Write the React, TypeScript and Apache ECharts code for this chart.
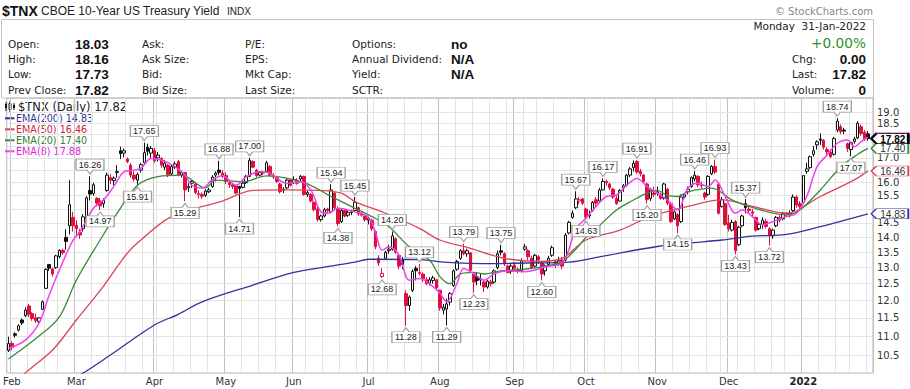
import React, { useEffect, useRef } from 'react';
import * as echarts from 'echarts';

// ---------- calendar ----------
const FIRST_DAY = [2021, 0, 29];
const LAST_DAY = [2022, 0, 31];
const HOLIDAYS = ['2021-02-15', '2021-04-02', '2021-05-31', '2021-07-05', '2021-09-06', '2021-11-25', '2021-12-24', '2022-01-17'];
const MONTH_NAMES = ['Jan', 'Feb', 'Mar', 'Apr', 'May', 'Jun', 'Jul', 'Aug', 'Sep', 'Oct', 'Nov', 'Dec'];

// ---------- daily OHLC ($TNX, 29-Jan-2021 .. 31-Jan-2022) ----------
const OPENS = [
  10.62, 10.80, 11.06, 11.16, 11.44, 11.56, 11.84, 11.62, 11.50, 11.40, 11.74, 12.36, 13.10, 12.96, 13.00, 13.36, 13.56, 14.00, 14.40, 14.70,
  14.42, 14.18, 14.30, 14.66, 15.70, 15.58, 15.40, 15.30, 15.20, 15.70, 16.20, 16.08, 16.40, 17.30, 17.20, 16.95, 16.70, 16.30, 16.10, 16.50,
  16.80, 17.45, 17.20, 17.30, 17.00, 16.98, 16.62, 16.70, 16.35, 16.62, 16.85, 16.30, 16.40, 15.80, 15.98, 15.95, 15.58, 15.55, 15.52, 15.65,
  15.85, 16.30, 16.50, 16.38, 16.28, 16.00, 15.92, 15.88, 15.85, 15.82, 16.00, 16.25, 16.85, 16.50, 16.30, 16.42, 16.45, 16.65, 16.28, 16.20,
  15.95, 15.72, 15.80, 16.12, 16.00, 16.10, 16.15, 16.25, 15.55, 15.55, 15.25, 15.00, 14.62, 14.75, 15.00, 14.90, 15.60, 15.00, 14.55, 14.95,
  14.78, 14.88, 14.95, 15.05, 14.85, 14.75, 14.60, 14.60, 14.20, 13.30, 12.72, 13.30, 13.55, 13.60, 13.95, 13.40, 13.25, 12.20, 11.85, 12.30,
  12.98, 12.85, 12.80, 12.62, 12.52, 12.60, 12.62, 12.30, 11.72, 11.75, 11.95, 12.45, 12.95, 13.30, 13.55, 13.45, 13.48, 12.80, 12.70, 12.62,
  12.55, 12.40, 12.55, 12.55, 13.00, 13.55, 13.45, 13.05, 12.88, 13.08, 12.95, 12.90, 13.60, 13.55, 13.30, 13.05, 13.35, 13.15, 12.90, 13.10,
  13.40, 13.20, 13.12, 13.25, 13.25, 14.15, 14.70, 15.05, 15.30, 15.38, 15.00, 14.75, 14.95, 15.35, 15.30, 15.72, 16.05, 15.95, 15.75, 15.40,
  15.30, 15.80, 15.90, 16.30, 16.60, 16.85, 16.45, 16.30, 15.95, 15.40, 15.60, 15.60, 15.55, 15.40, 15.75, 15.20, 14.65, 14.80, 14.55, 15.45,
  15.65, 15.85, 16.15, 16.25, 15.90, 15.60, 15.55, 16.35, 16.65, 15.95, 15.10, 15.20, 14.50, 14.25, 14.55, 13.75, 14.40, 15.20, 15.00, 14.90,
  14.70, 14.30, 14.45, 14.55, 14.30, 14.05, 14.40, 14.70, 14.65, 14.85, 14.80, 14.95, 15.45, 15.20, 15.25, 16.45, 16.60, 17.15, 17.55, 17.80,
  17.75, 17.35, 17.25, 17.15, 18.20, 18.35, 18.20, 17.60, 17.35, 17.70, 17.85, 18.35, 18.10, 18.03,
];
const HIGHS = [
  10.98, 10.86, 11.10, 11.32, 11.48, 11.80, 11.90, 11.66, 11.62, 11.52, 12.00, 12.98, 13.12, 13.00, 13.42, 13.60, 13.62, 14.28, 16.10, 14.90,
  14.60, 14.30, 14.82, 15.48, 16.26, 16.00, 15.45, 15.42, 15.40, 16.40, 16.35, 16.25, 16.70, 17.47, 17.40, 17.02, 16.78, 16.45, 16.40, 16.80,
  17.65, 17.60, 17.50, 17.42, 17.25, 17.02, 16.92, 16.75, 16.72, 16.85, 16.92, 16.48, 16.42, 15.98, 16.10, 16.00, 15.70, 15.62, 15.75, 15.80,
  16.30, 16.45, 16.88, 16.50, 16.40, 16.12, 16.00, 15.92, 15.88, 16.05, 16.30, 17.00, 16.90, 16.55, 16.45, 16.45, 16.88, 16.70, 16.38, 16.25,
  16.00, 15.82, 16.18, 16.15, 16.25, 16.18, 16.30, 16.28, 15.70, 15.60, 15.30, 15.12, 14.80, 15.05, 15.05, 15.94, 15.65, 15.10, 15.00, 15.00,
  14.95, 14.98, 15.45, 15.10, 14.92, 14.80, 14.72, 14.65, 14.25, 13.40, 12.98, 13.55, 13.75, 14.20, 14.00, 13.45, 13.35, 12.30, 12.15, 12.95,
  13.05, 13.12, 12.85, 12.70, 12.70, 12.75, 12.65, 12.32, 11.90, 12.05, 12.25, 12.95, 13.25, 13.60, 13.79, 13.62, 13.50, 12.82, 12.85, 12.80,
  12.60, 12.62, 12.62, 12.95, 13.55, 13.75, 13.50, 13.10, 13.15, 13.18, 13.00, 13.30, 13.78, 13.60, 13.38, 13.45, 13.40, 13.20, 13.10, 13.38,
  13.72, 13.25, 13.35, 13.35, 14.15, 14.58, 14.95, 15.67, 15.45, 15.42, 15.05, 14.95, 15.30, 15.45, 15.80, 16.17, 16.12, 16.00, 15.80, 15.50,
  15.75, 15.95, 16.35, 16.62, 16.90, 16.91, 16.55, 16.35, 16.00, 15.80, 15.85, 15.85, 15.62, 16.00, 15.80, 15.25, 14.95, 14.85, 15.55, 15.60,
  15.85, 16.25, 16.46, 16.30, 16.05, 15.65, 16.30, 16.70, 16.93, 16.00, 15.45, 15.25, 14.80, 14.62, 14.60, 14.40, 14.80, 15.37, 15.10, 15.00,
  14.72, 14.50, 14.70, 14.65, 14.35, 14.30, 14.75, 14.78, 14.90, 14.90, 14.95, 15.55, 15.52, 15.30, 16.30, 16.80, 17.10, 17.50, 17.75, 18.05,
  17.80, 17.45, 17.35, 17.90, 18.74, 18.45, 18.30, 17.65, 17.70, 17.90, 18.60, 18.45, 18.20, 18.16,
];
const LOWS = [
  10.58, 10.62, 10.96, 11.12, 11.30, 11.52, 11.52, 11.42, 11.36, 11.35, 11.72, 12.34, 12.90, 12.72, 12.96, 13.30, 13.42, 13.58, 14.10, 14.20,
  14.02, 13.95, 14.20, 14.56, 15.32, 15.50, 15.10, 14.97, 15.05, 15.65, 15.95, 15.90, 16.20, 16.95, 17.02, 16.78, 16.20, 16.05, 15.91, 16.40,
  16.75, 17.10, 17.00, 16.80, 16.85, 16.60, 16.50, 16.22, 16.30, 16.55, 16.25, 16.20, 15.29, 15.65, 15.80, 15.55, 15.40, 15.38, 15.45, 15.60,
  15.80, 16.05, 16.30, 16.18, 15.95, 15.80, 15.75, 15.55, 14.71, 15.78, 15.95, 16.22, 16.58, 16.20, 16.25, 16.30, 16.40, 16.25, 16.15, 15.98,
  15.58, 15.60, 15.75, 15.85, 15.95, 15.92, 16.05, 15.50, 15.45, 15.25, 14.92, 14.55, 14.55, 14.70, 14.82, 14.85, 14.95, 14.38, 14.50, 14.70,
  14.72, 14.78, 14.92, 14.75, 14.72, 14.55, 14.45, 14.22, 13.60, 13.05, 12.68, 13.25, 13.45, 13.55, 13.45, 12.95, 12.95, 11.28, 11.70, 12.25,
  12.60, 12.75, 12.55, 12.45, 12.45, 12.50, 12.30, 11.70, 11.60, 11.29, 11.85, 12.40, 12.90, 13.25, 13.40, 13.35, 12.88, 12.23, 12.45, 12.45,
  12.25, 12.35, 12.42, 12.50, 12.95, 13.40, 13.05, 12.82, 12.80, 12.90, 12.82, 12.85, 13.55, 13.25, 12.95, 13.00, 13.12, 12.60, 12.75, 13.05,
  13.35, 12.98, 13.05, 12.95, 13.20, 14.10, 14.65, 15.00, 15.18, 15.15, 14.63, 14.66, 14.90, 15.05, 15.25, 15.70, 15.88, 15.72, 15.38, 15.15,
  15.28, 15.65, 15.85, 16.22, 16.45, 16.35, 16.25, 15.95, 15.20, 15.30, 15.45, 15.50, 15.35, 15.35, 15.15, 14.50, 14.60, 14.15, 14.50, 15.40,
  15.55, 15.80, 16.05, 15.82, 15.78, 15.35, 15.50, 16.30, 16.35, 14.80, 15.05, 14.40, 14.20, 14.20, 13.43, 13.70, 14.35, 14.85, 14.85, 14.75,
  14.20, 14.25, 14.30, 14.30, 13.72, 13.95, 14.35, 14.52, 14.60, 14.72, 14.70, 14.90, 15.05, 14.95, 15.20, 16.35, 16.55, 17.05, 17.35, 17.55,
  17.35, 17.05, 17.00, 17.10, 18.10, 18.02, 18.02, 17.25, 17.07, 17.60, 17.80, 17.95, 17.72, 17.73,
];
const CLOSES = [
  10.80, 10.70, 11.02, 11.28, 11.36, 11.72, 11.60, 11.48, 11.42, 11.50, 11.96, 12.94, 12.98, 12.80, 13.38, 13.56, 13.48, 13.86, 15.16, 14.40,
  14.30, 14.08, 14.72, 15.42, 15.56, 15.92, 15.22, 15.12, 15.32, 16.30, 16.10, 16.18, 16.44, 17.18, 17.30, 16.85, 16.30, 16.15, 16.32, 16.72,
  17.22, 17.28, 17.40, 16.88, 17.12, 16.70, 16.78, 16.32, 16.65, 16.75, 16.32, 16.40, 15.72, 15.85, 16.05, 15.62, 15.55, 15.48, 15.68, 15.72,
  16.22, 16.38, 16.40, 16.25, 16.05, 15.92, 15.85, 15.60, 15.78, 15.98, 16.25, 16.90, 16.62, 16.28, 16.40, 16.38, 16.80, 16.30, 16.22, 16.05,
  15.65, 15.75, 16.10, 15.90, 16.12, 15.98, 16.25, 15.55, 15.62, 15.30, 14.98, 14.62, 14.75, 14.98, 14.95, 15.72, 15.05, 14.48, 14.95, 14.75,
  14.88, 14.90, 15.25, 14.82, 14.78, 14.62, 14.65, 14.30, 13.68, 13.15, 12.82, 13.50, 13.60, 14.05, 13.50, 13.05, 13.10, 11.85, 12.10, 12.88,
  12.90, 12.82, 12.65, 12.50, 12.62, 12.68, 12.38, 11.78, 11.80, 11.90, 12.20, 12.90, 13.20, 13.55, 13.45, 13.55, 12.92, 12.55, 12.60, 12.65,
  12.40, 12.58, 12.50, 12.90, 13.45, 13.50, 13.12, 12.85, 13.05, 12.98, 12.88, 13.22, 13.68, 13.35, 13.00, 13.40, 13.25, 12.80, 13.05, 13.30,
  13.65, 13.10, 13.22, 13.05, 14.08, 14.52, 14.85, 15.38, 15.35, 15.22, 14.72, 14.80, 15.25, 15.22, 15.72, 16.05, 16.00, 15.80, 15.45, 15.20,
  15.70, 15.88, 16.30, 16.55, 16.78, 16.42, 16.35, 16.05, 15.35, 15.72, 15.55, 15.65, 15.40, 15.95, 15.22, 14.55, 14.90, 14.40, 15.45, 15.55,
  15.75, 16.20, 16.30, 15.92, 15.88, 15.45, 16.25, 16.65, 16.42, 14.85, 15.35, 14.45, 14.30, 14.52, 13.55, 14.35, 14.75, 15.05, 14.95, 14.85,
  14.25, 14.45, 14.60, 14.38, 14.05, 14.25, 14.70, 14.60, 14.85, 14.80, 14.85, 15.45, 15.15, 15.10, 16.28, 16.55, 17.05, 17.30, 17.68, 17.75,
  17.45, 17.25, 17.05, 17.82, 18.60, 18.12, 18.15, 17.40, 17.65, 17.80, 18.50, 18.05, 17.82, 17.82,
];

// ---------- moving averages: [day index, value] ----------
const EMA200 = [[15, 9.75], [22, 10.05], [30, 10.5], [43, 11.3], [50, 11.6], [57, 11.96], [72, 12.46], [84, 12.85], [93, 13.02], [102, 13.18], [106, 13.27], [121, 13.26], [128, 13.18], [142, 13.13], [152, 13.15], [165, 13.18], [174, 13.35], [191, 13.69], [200, 13.8], [210, 13.91], [219, 14.04], [229, 14.1], [239, 14.37], [253, 14.83]];
const EMA50 = [[0, 9.6], [5, 10.05], [13, 10.63], [20, 11.44], [28, 12.43], [35, 13.47], [39, 13.91], [48, 14.73], [63, 15.3], [72, 15.7], [82, 15.72], [92, 15.7], [98, 15.6], [102, 15.28], [111, 14.85], [121, 14.31], [127, 13.91], [136, 13.63], [146, 13.3], [156, 13.2], [163, 13.3], [170, 13.91], [180, 14.25], [189, 14.73], [200, 15.1], [210, 15.34], [219, 15.1], [229, 14.85], [239, 15.47], [249, 16.11], [253, 16.46]];
const EMA20 = [[0, 10.4], [9, 11.0], [15, 11.53], [20, 12.61], [27, 13.91], [32, 14.85], [38, 15.9], [44, 16.24], [51, 16.3], [58, 15.8], [61, 16.1], [69, 16.04], [76, 16.27], [87, 16.0], [95, 15.47], [102, 15.03], [107, 14.73], [112, 14.37], [118, 13.68], [124, 13.24], [127, 12.72], [130, 12.5], [133, 12.8], [137, 12.85], [140, 12.8], [145, 12.9], [152, 12.95], [158, 13.05], [163, 13.2], [167, 13.6], [170, 14.0], [173, 14.3], [179, 14.97], [184, 15.34], [188, 15.6], [191, 15.7], [194, 15.5], [197, 15.47], [200, 15.65], [207, 15.79], [213, 15.34], [218, 15.1], [225, 14.85], [229, 14.79], [233, 14.97], [239, 15.72], [245, 16.63], [250, 17.15], [253, 17.40]];
const EMA8 = [[0, 10.67], [5, 10.89], [9, 11.35], [12, 12.16], [16, 13.18], [19, 13.9], [21, 14.19], [25, 15.03], [28, 15.34], [31, 15.85], [34, 16.43], [37, 16.5], [39, 16.57], [42, 16.98], [45, 16.91], [49, 16.64], [52, 16.3], [54, 15.9], [57, 15.79], [60, 16.11], [63, 16.27], [67, 15.9], [70, 16.24], [74, 16.43], [77, 16.37], [82, 15.98], [86, 16.04], [89, 15.72], [92, 14.9], [94, 14.85], [97, 15.03], [102, 14.9], [106, 14.7], [108, 14.19], [110, 13.57], [112, 13.68], [115, 13.4], [118, 12.61], [121, 12.66], [125, 12.41], [127, 12.21], [129, 11.96], [132, 12.5], [134, 12.97], [137, 12.81], [140, 12.61], [143, 12.81], [147, 12.9], [152, 12.87], [158, 13.02], [163, 13.15], [165, 13.6], [167, 14.3], [170, 14.67], [173, 15.1], [176, 15.47], [179, 15.53], [182, 15.9], [185, 16.17], [188, 15.85], [191, 15.6], [194, 15.34], [197, 14.97], [200, 15.79], [203, 15.98], [206, 15.85], [208, 16.11], [211, 15.47], [214, 14.85], [216, 14.97], [219, 14.73], [222, 14.43], [225, 14.55], [229, 14.73], [232, 14.85], [235, 15.47], [238, 16.63], [241, 17.12], [244, 17.62], [247, 17.76], [249, 17.47], [251, 17.69], [253, 17.88]];

// ---------- annotated swing points (day indices) ----------
const HIGH_MARKS = [24, 40, 62, 71, 95, 102, 113, 121, 134, 145, 167, 175, 185, 202, 208, 217, 244];
const LOW_MARKS = [27, 38, 52, 68, 97, 110, 117, 129, 137, 157, 170, 188, 197, 214, 224, 248];

// ---------- price axis ----------
const Y_TICKS = [10.5, 11.0, 11.5, 12.0, 12.5, 13.0, 13.5, 14.0, 14.5, 15.0, 15.5, 16.0, 16.5, 17.0, 17.5, 18.0, 18.5, 19.0];
const Y_MIN = 10.05;
const Y_MAX = 19.68;

const RED = '#e0103c';
const BLACK = '#111111';
const C200 = '#333399';
const C50 = '#d9455a';
const C20 = '#3a8a3a';
const C8 = '#f040f0';

function buildDates(): string[] {
  const hol = new Set(HOLIDAYS);
  const out: string[] = [];
  let t = Date.UTC(FIRST_DAY[0], FIRST_DAY[1], FIRST_DAY[2]);
  const end = Date.UTC(LAST_DAY[0], LAST_DAY[1], LAST_DAY[2]);
  while (t <= end) {
    const d = new Date(t);
    const wd = d.getUTCDay();
    const iso = d.toISOString().slice(0, 10);
    if (wd !== 0 && wd !== 6 && !hol.has(iso)) out.push(iso);
    t += 86400000;
  }
  return out;
}

const ABOVE = 'path://M0,0 L28,0 L28,11 L17,11 L14,15 L11,11 L0,11 Z';
const BELOW = 'path://M0,4 L11,4 L14,0 L17,4 L28,4 L28,15 L0,15 Z';
const TAG = 'path://M0,5 L5,0 L37,0 L37,10 L5,10 Z';

export default function App() {
  const ref = useRef<HTMLDivElement>(null);
  useEffect(() => {
    if (!ref.current) return;
    const chart = echarts.init(ref.current, null, { renderer: 'svg' });
    const dates = buildDates();
    const cats = [...dates, ''];
    const weekday = (s: string) => new Date(s + 'T00:00:00Z').getUTCDay();
    const isMonthStart = cats.map((d, i) => i > 0 && d !== '' && d.slice(5, 7) !== cats[i - 1].slice(5, 7));
    const isWeekStart = cats.map((d, i) => i > 0 && d !== '' && weekday(d) <= weekday(cats[i - 1]));
    const lastIdx = CLOSES.length - 1;
    const tagIdx = cats.length - 1;

    const candleData = OPENS.map((o, j) => {
      const c = CLOSES[j];
      const prev = j > 0 ? CLOSES[j - 1] : o;
      const col = c < prev ? RED : BLACK;
      const fill = c > o ? '#ffffff' : col;
      return {
        value: [o, c, LOWS[j], HIGHS[j]],
        itemStyle: { color: fill, color0: fill, borderColor: col, borderColor0: col, borderWidth: 1 },
      };
    });

    const callouts = [
      ...HIGH_MARKS.map((j) => ({
        coord: [j, HIGHS[j]], name: HIGHS[j].toFixed(2), symbol: ABOVE, symbolSize: [28, 15], symbolOffset: [0, -9.5],
        label: { offset: [0, -2] },
      })),
      ...LOW_MARKS.map((j) => ({
        coord: [j, LOWS[j]], name: LOWS[j].toFixed(2), symbol: BELOW, symbolSize: [28, 15], symbolOffset: [0, 9.5],
        label: { offset: [0, 2] },
      })),
    ];

    const last = (a: number[][]) => a[a.length - 1][1];
    const tagValues = [CLOSES[lastIdx], last(EMA20), last(EMA50), last(EMA200)];
    // pixel distance on the log price scale (plot height 275 px)
    const pxPerLn = 275 / Math.log(Y_MAX / Y_MIN);
    const hiddenTick = (v: number) => tagValues.some((t) => Math.abs(Math.log(v / t)) * pxPerLn < 6);

    const tag = (v: number, color: string, bold = false) => ({
      coord: [tagIdx, v], name: v.toFixed(2), symbol: TAG, symbolSize: [37, 10], symbolOffset: [18.5, 0],
      itemStyle: { color: '#fff', borderColor: color, borderWidth: bold ? 1.5 : 1 },
      label: {
        show: true, position: 'inside', offset: [3, 0.5], formatter: '{b}', lineHeight: 9,
        color: bold ? '#000' : '#333', fontWeight: bold ? 'bold' : 'normal', fontSize: 10, fontFamily: 'Liberation Sans',
      },
    });

    const emaSeries = (name: string, data: number[][], color: string, width: number) => ({
      name, type: 'line', data, smooth: 0.35, symbol: 'none', showSymbol: false, clip: true,
      lineStyle: { color, width }, itemStyle: { color }, silent: true,
      markPoint: { z: 5, silent: true, data: [tag(last(data), color)] },
    });

    const txt = (x: number, y: number, text: string, size: number, family = 'DejaVu Sans', fill = '#222', align = 'left', weight = 'normal') => ({
      type: 'text', x, y, silent: true,
      style: { text, fontSize: size, fontFamily: family, fontWeight: weight, fill, textAlign: align, textVerticalAlign: 'middle' },
    });

    const rowsY = [43.5, 59, 74.3, 89.5];
    const val = (x: number, y: number, t: string, align = 'left') => txt(x, y + 0.5, t, 13.5, 'Liberation Sans', '#111', align, 'bold');
    const col1 = ['Open:', 'High:', 'Low:', 'Prev Close:'];
    const col1v = [OPENS[lastIdx], HIGHS[lastIdx], LOWS[lastIdx], CLOSES[lastIdx - 1]].map((v) => v.toFixed(2));
    const col2 = ['Ask:', 'Ask Size:', 'Bid:', 'Bid Size:'];
    const col3 = ['P/E:', 'EPS:', 'Mkt Cap:', 'Last Size:'];
    const col4 = ['Options:', 'Annual Dividend:', 'Yield:', 'SCTR:'];
    const col4v = ['no', 'N/A', 'N/A', ''];
    const chg = CLOSES[lastIdx] - CLOSES[lastIdx - 1];
    const pct = (chg / CLOSES[lastIdx - 1]) * 100;

    const graphics: any[] = [
      txt(2, 10.5, '$TNX', 14, 'Liberation Sans', '#111', 'left', 'bold'),
      txt(41, 11.3, 'CBOE 10-Year US Treasury Yield', 12, 'Liberation Sans', '#222'),
      txt(227, 11.8, 'INDX', 10, 'Liberation Sans', '#222'),
      txt(873, 11, '\u00A9 StockCharts.com', 10, 'DejaVu Sans', '#888', 'right'),
      { type: 'rect', silent: true, shape: { x: 1.5, y: 19.5, width: 872, height: 78.5 }, style: { fill: 'none', stroke: '#c4c4c4', lineWidth: 1 } },
      ...col1.map((t, i) => txt(8, rowsY[i], t, 10.5)),
      ...col1v.map((t, i) => val(75, rowsY[i], t)),
      ...col2.map((t, i) => txt(142, rowsY[i], t, 10.5)),
      ...col3.map((t, i) => txt(245, rowsY[i], t, 10.5)),
      ...col4.map((t, i) => txt(352, rowsY[i], t, 10.5)),
      ...col4v.map((t, i) => val(451, rowsY[i], t)),
      txt(866, 26.3, 'Monday  31-Jan-2022', 10.5, 'DejaVu Sans', '#222', 'right'),
      txt(866, 42.7, (chg >= 0 ? '+' : '') + pct.toFixed(2) + '%', 13.7, 'DejaVu Sans', '#2f8f2f', 'right'),
      txt(792, rowsY[1], 'Chg:', 10.5), val(866, rowsY[1], chg.toFixed(2), 'right'),
      txt(792, rowsY[2], 'Last:', 10.5), val(866, rowsY[2], CLOSES[lastIdx].toFixed(2), 'right'),
      txt(792, rowsY[3], 'Volume:', 10.5), val(866, rowsY[3], '0', 'right'),
      // legend
      { type: 'line', silent: true, shape: { x1: 6, y1: 102, x2: 6, y2: 111 }, style: { stroke: '#111', lineWidth: 1 } },
      { type: 'rect', silent: true, shape: { x: 5, y: 104, width: 2, height: 4 }, style: { fill: '#111' } },
      { type: 'line', silent: true, shape: { x1: 10, y1: 101, x2: 10, y2: 112 }, style: { stroke: '#111', lineWidth: 1 } },
      { type: 'rect', silent: true, shape: { x: 9, y: 103.5, width: 2, height: 6 }, style: { fill: '#fff', stroke: '#111', lineWidth: 1 } },
      { type: 'line', silent: true, shape: { x1: 14, y1: 103, x2: 14, y2: 110 }, style: { stroke: '#111', lineWidth: 1 } },
      { type: 'rect', silent: true, shape: { x: 13, y: 105, width: 2, height: 3 }, style: { fill: '#111' } },
      txt(18, 107, '$TNX (Daily) ' + CLOSES[lastIdx].toFixed(2), 11.5),
      ...[
        ['EMA(200) ', EMA200, C200, '#333399'],
        ['EMA(50) ', EMA50, C50, '#cc2244'],
        ['EMA(20) ', EMA20, C20, '#2f7f2f'],
        ['EMA(8) ', EMA8, C8, '#e020e0'],
      ].flatMap((row: any, i) => {
        const y = 118.3 + i * 11;
        return [
          { type: 'line', silent: true, shape: { x1: 5, y1: y, x2: 14.5, y2: y }, style: { stroke: row[2], lineWidth: 2 } },
          txt(16, y, row[0] + last(row[1]).toFixed(2), 9.6, 'DejaVu Sans', row[3]),
        ];
      }),
    ];

    const option: any = {
      animation: false,
      backgroundColor: '#ffffff',
      textStyle: { fontFamily: 'DejaVu Sans' },
      grid: { left: 2, right: 37, top: 98, bottom: 16, show: true, borderColor: '#b4b4b4', borderWidth: 1, backgroundColor: 'transparent' },
      xAxis: [
        {
          type: 'category', data: cats, boundaryGap: true, position: 'bottom',
          axisLine: { show: false }, axisTick: { show: false }, axisLabel: { show: false },
          splitLine: { show: true, interval: (i: number) => !!isWeekStart[i], lineStyle: { color: '#e3e3e3', width: 1 } },
        },
        {
          type: 'category', data: cats, boundaryGap: true, position: 'bottom',
          axisLine: { show: false }, axisTick: { show: false },
          axisLabel: {
            interval: (i: number) => !!isMonthStart[i], margin: 3, color: '#333', fontSize: 10, fontFamily: 'DejaVu Sans',
            formatter: (v: string) => {
              const m = parseInt(v.slice(5, 7), 10) - 1;
              return m === 0 ? '{y|' + v.slice(0, 4) + '}' : MONTH_NAMES[m];
            },
            rich: { y: { fontWeight: 'bold', fontSize: 10, fontFamily: 'DejaVu Sans', color: '#222' } },
          },
          splitLine: { show: true, interval: (i: number) => !!isMonthStart[i], lineStyle: { color: '#c2c2c2', width: 1 } },
        },
      ],
      yAxis: { type: 'log', logBase: 10, min: Y_MIN, max: Y_MAX, show: false, scale: true },
      graphic: graphics,
      series: [
        {
          name: '$TNX', type: 'candlestick', data: candleData, barWidth: 3, silent: true,
          markPoint: {
            z: 6, silent: true,
            itemStyle: { color: '#ffffff', borderColor: '#a0a0a0', borderWidth: 1 },
            label: { show: true, position: 'inside', formatter: '{b}', color: '#222', fontSize: 9, fontFamily: 'Liberation Sans' },
            data: [...callouts, tag(CLOSES[lastIdx], '#000', true)],
          },
        },
        {
          ...emaSeries('EMA(200)', EMA200, C200, 1.3),
          markLine: {
            z: 1, silent: true, symbol: 'none',
            lineStyle: { color: '#e3e3e3', type: 'solid', width: 1 },
            label: { show: true, position: 'end', distance: 4, lineHeight: 9, formatter: (p: any) => Number(p.value).toFixed(1), color: '#333', fontSize: 10, fontFamily: 'DejaVu Sans' },
            emphasis: { disabled: true },
            data: Y_TICKS.map((v) => ({ yAxis: v, label: { show: !hiddenTick(v) } })),
          },
        },
        emaSeries('EMA(50)', EMA50, C50, 1.3),
        emaSeries('EMA(20)', EMA20, C20, 1.3),
        emaSeries('EMA(8)', EMA8, C8, 1.5),
      ],
    };
    chart.setOption(option);
    return () => chart.dispose();
  }, []);
  return <div ref={ref} style={{ position: 'fixed', left: 0, top: 0, width: 910, height: 389, background: '#fff' }} />;
}
